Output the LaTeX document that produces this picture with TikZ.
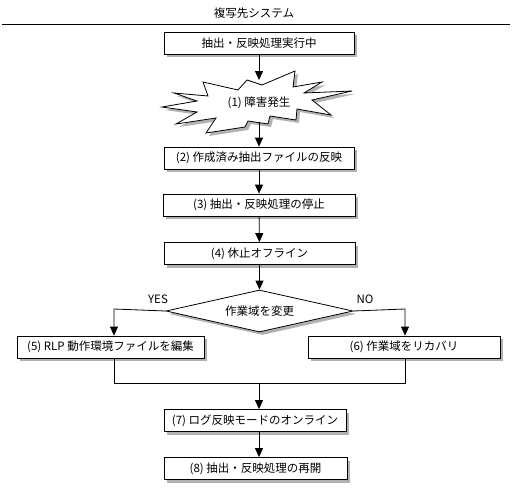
\documentclass[tikz,border=0pt]{standalone}
\usepackage{fontspec}
\setmainfont{Noto Sans CJK JP}
\usetikzlibrary{shapes.geometric,shadows,arrows.meta}

\begin{document}
\begin{tikzpicture}[x=1pt,y=-1pt,line width=0.8pt,
    every node/.style={font=\fontsize{11.5}{13}\selectfont},
    shade box/.style={drop shadow={shadow xshift=3pt,shadow yshift=-3pt,fill=gray!60,opacity=1}},
    procbox/.style={draw,fill=white,minimum height=22pt,inner sep=1pt,shade box},
    decision/.style={draw,fill=white,diamond,inner sep=0pt,shape aspect=4.4,
        minimum width=187pt,minimum height=42pt,shade box},
    flow/.style={-{Triangle[width=8pt,length=9pt]}}
    ]
    \useasboundingbox (0,0) rectangle (513,493);

    % header
    \node (title) at (254,13) {複写先システム};
    \draw (2,24) -- (510,24);

    \node[procbox,minimum width=190pt] (running) at (259,43) {抽出・反映処理実行中};

    % the fault: a burst drawn by hand
    \draw[fill=white,shade box] (203,82) -- (238,90) -- (247,80) -- (262,85)
        -- (295,71) -- (293,87) -- (322,82) -- (304,93) -- (352,91)
        -- (312,100) -- (331,115) -- (297,109) -- (296,120) -- (270,116)
        -- (268,124) -- (248,121) -- (245,127) -- (206,133) -- (216,118)
        -- (176,124) -- (197,112) -- (162,107) -- (197,101) -- (174,93)
        -- (208,96) -- cycle;
    \node (fault) at (259,103) {(1) 障害発生};
    \coordinate (burst top) at (259,80);
    \coordinate (burst bottom) at (259,122);

    \node[procbox,minimum width=190pt] (apply) at (259,158) {(2) 作成済み抽出ファイルの反映};
    \node[procbox,minimum width=192pt] (stop) at (259,205) {(3) 抽出・反映処理の停止};
    \node[procbox,minimum width=191pt] (offline) at (259.5,253.5) {(4) 休止オフライン};
    \node[decision] (change) at (259.5,311) {作業域を変更};

    \node[procbox,minimum width=187pt] (edit) at (110.5,347) {(5) RLP 動作環境ファイルを編集};
    \node[procbox,minimum width=192pt] (recover) at (404,347) {(6) 作業域をリカバリ};

    \node[procbox,minimum width=182pt] (online) at (255,420.5) {(7) ログ反映モードのオンライン};
    \node[procbox,minimum width=183pt] (restart) at (255.5,468.5) {(8) 抽出・反映処理の再開};

    \node (yes) at (158,299) {YES};
    \node (no) at (365,299) {NO};

    % connectors
    \coordinate (yes bend) at (114,309);
    \coordinate (no bend) at (405,309);
    \coordinate (join) at (259,383);

    \draw[flow] (running) -- (burst top);
    \draw[flow] (burst bottom) -- (apply);
    \draw[flow] (apply) -- (stop);
    \draw[flow] (stop) -- (offline);
    \draw[flow] (offline) -- (change);
    \draw[flow] (change.west) -- (yes bend) -- (yes bend |- edit.north);
    \draw[flow] (change.east) -- (no bend) -- (no bend |- recover.north);
    \draw (yes bend |- edit.south) -- (yes bend |- join) -- (no bend |- join)
        -- (no bend |- recover.south);
    \draw[flow] (join) -- (join |- online.north);
    \draw[flow] (join |- online.south) -- (join |- restart.north);

\end{tikzpicture}
\end{document}
